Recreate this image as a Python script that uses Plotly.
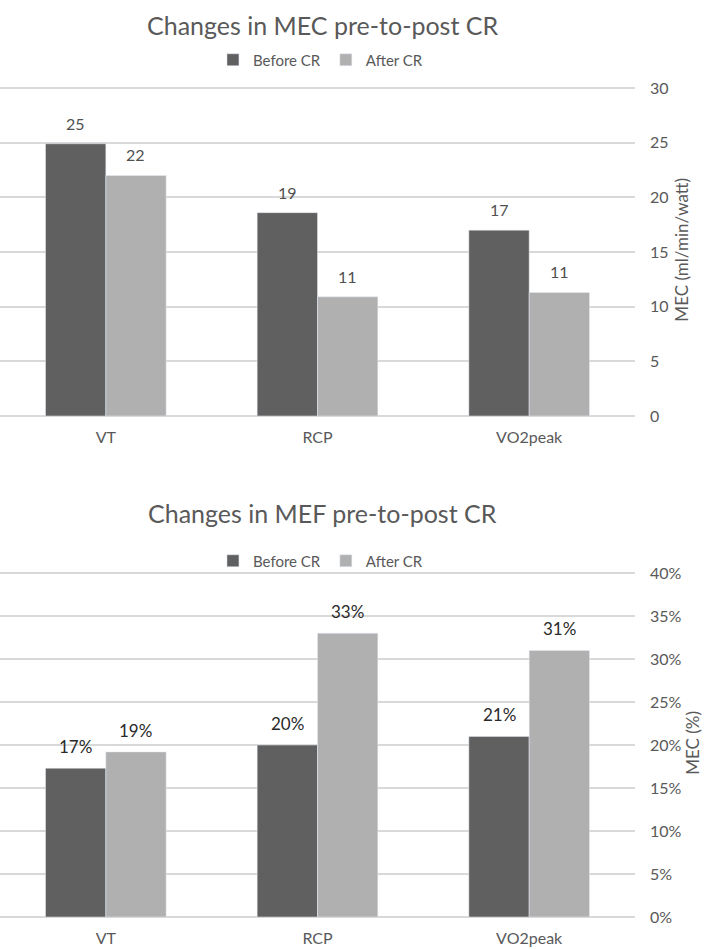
import plotly.graph_objects as go

categories = ["VT", "RCP", "VO2peak"]
mec_before = [24.9, 18.6, 17.0]
mec_after = [22.0, 10.9, 11.3]
mef_before = [0.173, 0.200, 0.210]
mef_after = [0.192, 0.330, 0.310]
series_names = ["Before CR", "After CR"]
mec_ticks = [0, 5, 10, 15, 20, 25, 30]
mef_ticks = [0, 0.05, 0.10, 0.15, 0.20, 0.25, 0.30, 0.35, 0.40]

DARK = "#606060"
LIGHT = "#b0b0b0"
TXT = "#595959"
GRID = "#d9d9d9"
FONT = "Lato"

W, H = 709, 950

def fy(px):
    return 1 - px / H

fig = go.Figure()

fig.add_trace(go.Bar(x=categories, y=mec_before, name=series_names[0], marker_color=DARK,
                     xaxis="x", yaxis="y", legend="legend"))
fig.add_trace(go.Bar(x=categories, y=mec_after, name=series_names[1], marker_color=LIGHT,
                     xaxis="x", yaxis="y", legend="legend"))
fig.add_trace(go.Bar(x=categories, y=mef_before, name=series_names[0], marker_color=DARK,
                     xaxis="x2", yaxis="y2", legend="legend2"))
fig.add_trace(go.Bar(x=categories, y=mef_after, name=series_names[1], marker_color=LIGHT,
                     xaxis="x2", yaxis="y2", legend="legend2"))

annotations = []
for vals, shift in ((mec_before, -30), (mec_after, 30)):
    for c, v in zip(categories, vals):
        annotations.append(dict(x=c, y=v, xref="x", yref="y", text=f"{v:.0f}", showarrow=False,
                                xanchor="center", yanchor="bottom", xshift=shift, yshift=9,
                                font=dict(size=16, color="#505050", family=FONT)))
for vals, shift in ((mef_before, -30), (mef_after, 30)):
    for c, v in zip(categories, vals):
        annotations.append(dict(x=c, y=v, xref="x2", yref="y2", text=f"{v*100:.0f}%", showarrow=False,
                                xanchor="center", yanchor="bottom", xshift=shift, yshift=9,
                                font=dict(size=17, color="#2a2a2a", family=FONT)))

annotations += [
    dict(text="Changes in MEC pre-to-post CR", x=0.455, y=fy(25), xref="paper", yref="paper",
         showarrow=False, xanchor="center", yanchor="middle",
         font=dict(size=25, color=TXT, family=FONT)),
    dict(text="Changes in MEF pre-to-post CR", x=0.455, y=fy(513), xref="paper", yref="paper",
         showarrow=False, xanchor="center", yanchor="middle",
         font=dict(size=25, color=TXT, family=FONT)),
]

xdom = [0, 635 / W]
axis_common = dict(showgrid=True, gridcolor=GRID, gridwidth=1.5, zeroline=True,
                   zerolinecolor=GRID, zerolinewidth=1.5, showline=False, ticks="",
                   tickfont=dict(size=16, color=TXT, family=FONT), side="right",
                   ticklabelstandoff=14, automargin=False)
xaxis_common = dict(domain=xdom, showgrid=False, showline=False, ticks="", automargin=False,
                    tickfont=dict(size=16, color=TXT, family=FONT), ticklabelstandoff=10)

# extend the value range slightly so the top gridline is drawn
top_max = 30.4
bot_max = 0.405
top_px = 416 - 328 * top_max / 30
bot_px = 917 - 344 * bot_max / 0.40

fig.update_layout(
    width=W, height=H,
    margin=dict(l=0, r=0, t=0, b=0),
    paper_bgcolor="white", plot_bgcolor="white",
    font=dict(family=FONT, color=TXT),
    barmode="group", bargap=0.43, bargroupgap=0,
    showlegend=True,
    xaxis=dict(anchor="y", **xaxis_common),
    yaxis=dict(domain=[fy(416), fy(top_px)], anchor="x", range=[0, top_max], tickvals=mec_ticks,
               title=dict(text="MEC (ml/min/watt)", font=dict(size=17, color=TXT, family=FONT), standoff=8),
               **axis_common),
    xaxis2=dict(anchor="y2", **xaxis_common),
    yaxis2=dict(domain=[fy(917), fy(bot_px)], anchor="x2", range=[0, bot_max], tickvals=mef_ticks,
                tickformat=".0%",
                title=dict(text="MEC (%)", font=dict(size=17, color=TXT, family=FONT), standoff=4),
                **axis_common),
    legend=dict(orientation="h", x=0.452, xanchor="center", y=fy(60), yanchor="middle",
                font=dict(size=15, color=TXT, family=FONT), itemwidth=30, bgcolor="rgba(0,0,0,0)"),
    legend2=dict(orientation="h", x=0.452, xanchor="center", y=fy(561), yanchor="middle",
                 font=dict(size=15, color=TXT, family=FONT), itemwidth=30, bgcolor="rgba(0,0,0,0)"),
    annotations=annotations,
)

fig.write_html("out.html")
